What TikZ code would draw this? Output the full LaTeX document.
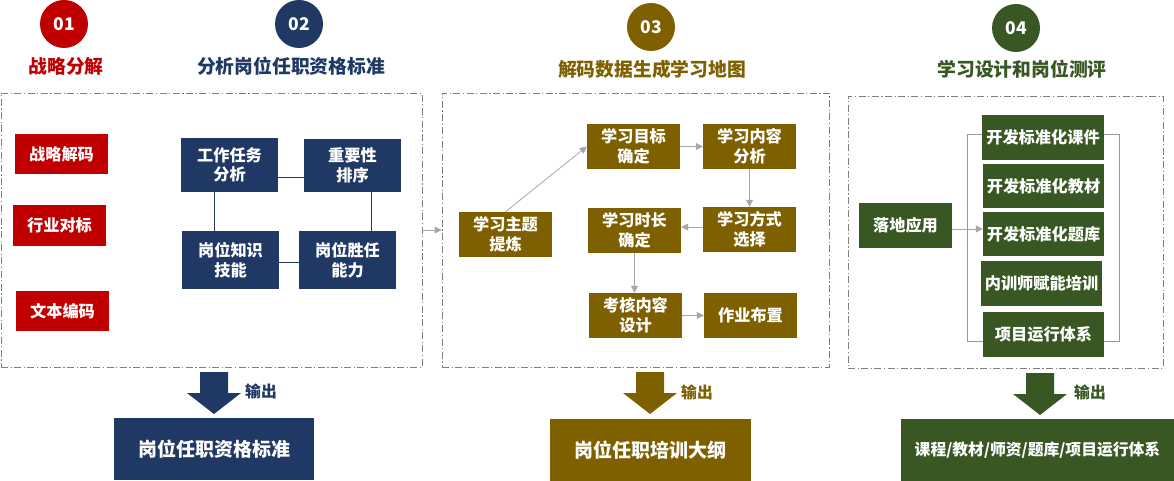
\documentclass[tikz,border=0pt]{standalone}
\usepackage{fontspec}
\setmainfont{Noto Sans CJK SC}
\usetikzlibrary{arrows.meta}
\definecolor{cred}{HTML}{C00000}
\definecolor{cnavy}{HTML}{1F3864}
\definecolor{cbrown}{HTML}{7F6000}
\definecolor{cgreen}{HTML}{385723}
\definecolor{cgray}{HTML}{A6A6A6}
\definecolor{cdash}{HTML}{7F7F7F}
\begin{document}
\begin{tikzpicture}[x=1pt,y=-1pt,
  sz/.style 2 args={minimum width=#1, minimum height=#2},
  bx/.style={inner sep=0pt, align=center, text=white, font=\bfseries\fontsize{16.2}{19.5}\selectfont},
  redbox/.style={bx, fill=cred},
  navybox/.style={bx, fill=cnavy},
  brownbox/.style={bx, fill=cbrown},
  greenbox/.style={bx, fill=cgreen},
  numcirc/.style={circle, inner sep=0pt, minimum size=48pt, text=white, font=\bfseries\fontsize{17.5}{20}\selectfont},
  ttl/.style={font=\bfseries\fontsize{18.8}{21}\selectfont, inner sep=0pt},
  frame/.style={draw=cdash, line width=0.8pt, dash pattern=on 7pt off 2.5pt on 1.2pt off 2.5pt, inner sep=0pt},
  arr/.style={draw=cgray, line width=0.8pt, -{Triangle[width=7pt,length=7pt]}},
  navyline/.style={draw=cnavy, line width=0.9pt},
  brk/.style={draw=cdash!80, line width=0.9pt},
  outbox/.style={inner sep=0pt, text=white, font=\bfseries\fontsize{19}{22}\selectfont},
  outlbl/.style={inner sep=0pt, font=\bfseries\fontsize{15.8}{18}\selectfont}
]
\useasboundingbox (0,0) rectangle (1174,481);

% headers
\node[numcirc, fill=cred] (c1) at (64,24) {01};
\node[numcirc, fill=cnavy] (c2) at (299,24) {02};
\node[numcirc, fill=cbrown] (c3) at (651,27) {03};
\node[numcirc, fill=cgreen] (c4) at (1016,28) {04};
\node[ttl, text=cred] (t1) at (66,66) {战略分解};
\node[ttl, text=cnavy] (t2) at (291,66) {分析岗位任职资格标准};
\node[ttl, text=cbrown] (t3) at (652,69) {解码数据生成学习地图};
\node[ttl, text=cgreen] (t4) at (1022,69) {学习设计和岗位测评};

% frames
\node[frame, sz={421pt}{274pt}] (f1) at (211.5,230) {};
\node[frame, sz={387pt}{274pt}] (f2) at (635.5,230) {};
\node[frame, sz={315pt}{272pt}] (f3) at (1005.5,232) {};
\draw[arr] (f1.east) -- (f2.west);

% section 1
\node[redbox, sz={93pt}{40pt}] (r1) at (61.5,154) {战略解码};
\node[redbox, sz={93pt}{41pt}] (r2) at (59.5,225.5) {行业对标};
\node[redbox, sz={93pt}{40pt}] (r3) at (62.5,311) {文本编码};
\node[navybox, sz={97pt}{54pt}] (gz) at (229.5,165) {工作任务\\分析};
\node[navybox, sz={97pt}{53pt}] (zy) at (352.5,165.5) {重要性\\排序};
\node[navybox, sz={97pt}{58pt}] (gw) at (230.5,260) {岗位知识\\技能};
\node[navybox, sz={97pt}{58pt}] (gs) at (347.5,260) {岗位胜任\\能力};
\draw[navyline] ([yshift=-12pt]gz.east) -- ([yshift=-12pt]gz.east -| zy.west);
\draw[navyline] ([xshift=-15.5pt]gz.south) -- ([xshift=-15.5pt]gz.south |- gw.north);
\draw[navyline] ([xshift=18.5pt]zy.south) -- ([xshift=18.5pt]zy.south |- gs.north);
\draw[navyline] ([yshift=-2pt]gw.east) -- ([yshift=-2pt]gw.east -| gs.west);

% section 2
\node[brownbox, sz={93pt}{45pt}] (zt) at (505.5,234.5) {学习主题\\提炼};
\node[brownbox, sz={93pt}{45pt}] (mb) at (633.5,146.5) {学习目标\\确定};
\node[brownbox, sz={93pt}{45pt}] (nr) at (749.5,146.5) {学习内容\\分析};
\node[brownbox, sz={93pt}{45pt}] (sc) at (634.5,230.5) {学习时长\\确定};
\node[brownbox, sz={93pt}{45pt}] (fs) at (749.5,229.5) {学习方式\\选择};
\node[brownbox, sz={93pt}{45pt}] (kh) at (635.5,315.5) {考核内容\\设计};
\node[brownbox, sz={93pt}{45pt}] (zb) at (750.5,315.5) {作业布置};
\draw[arr] (zt.north) -- (mb.west);
\draw[arr] (mb.east) -- (nr.west);
\draw[arr] (nr.south) -- (nr.south |- fs.north);
\draw[arr] ([yshift=2.5pt]fs.west) -- ([yshift=2.5pt]fs.west -| sc.east);
\draw[arr] (sc.south) -- (sc.south |- kh.north);
\draw[arr] (kh.east) -- (zb.west);

% section 3
\node[greenbox, sz={93pt}{45pt}] (ld) at (905.5,225.5) {落地应用};
\node[greenbox, sz={122pt}{45pt}] (kj) at (1043,137.5) {开发标准化课件};
\node[greenbox, sz={121pt}{44pt}] (jc) at (1043.5,186) {开发标准化教材};
\node[greenbox, sz={121pt}{44pt}] (tk) at (1043.5,234) {开发标准化题库};
\node[greenbox, sz={121pt}{45pt}] (px) at (1041.5,283.5) {内训师赋能培训};
\node[greenbox, sz={121pt}{45pt}] (xm) at (1043.5,334.5) {项目运行体系};
\draw[brk] ([yshift=3.5pt]kj.west) -- ++(-14,0) |- ([yshift=-6.5pt]xm.west);
\draw[brk] ([yshift=3.5pt]kj.east) -- ++(15,0) |- ([yshift=-6.5pt]xm.east);
\draw[arr] ([yshift=-3.5pt]ld.east) -- ([yshift=-3.5pt]ld.east -| tk.west);

% output arrows
\fill[cnavy] (200,372) -- (228,372) -- (228,393) -- (241,393) -- (214,414) -- (187,393) -- (200,393) -- cycle;
\fill[cbrown] (636,372) -- (664,372) -- (664,393) -- (677,393) -- (650,414) -- (623,393) -- (636,393) -- cycle;
\fill[cgreen] (1026,373) -- (1054,373) -- (1054,394) -- (1067,394) -- (1040,415) -- (1013,394) -- (1026,394) -- cycle;
\node[outlbl, text=cnavy] (l1) at (261,391) {输出};
\node[outlbl, text=cbrown] (l2) at (697,392) {输出};
\node[outlbl, text=cgreen] (l3) at (1090,392) {输出};

% output boxes
\node[outbox, fill=cnavy, sz={200pt}{62pt}] (o1) at (214,449) {岗位任职资格标准};
\node[outbox, fill=cbrown, sz={201pt}{62pt}] (o2) at (650.5,450) {岗位任职培训大纲};
\node[outbox, fill=cgreen, sz={273pt}{62pt}, font=\bfseries\fontsize{15.8}{18}\selectfont] (o3) at (1037.5,450) {课程/教材/师资/题库/项目运行体系};
\end{tikzpicture}
\end{document}
